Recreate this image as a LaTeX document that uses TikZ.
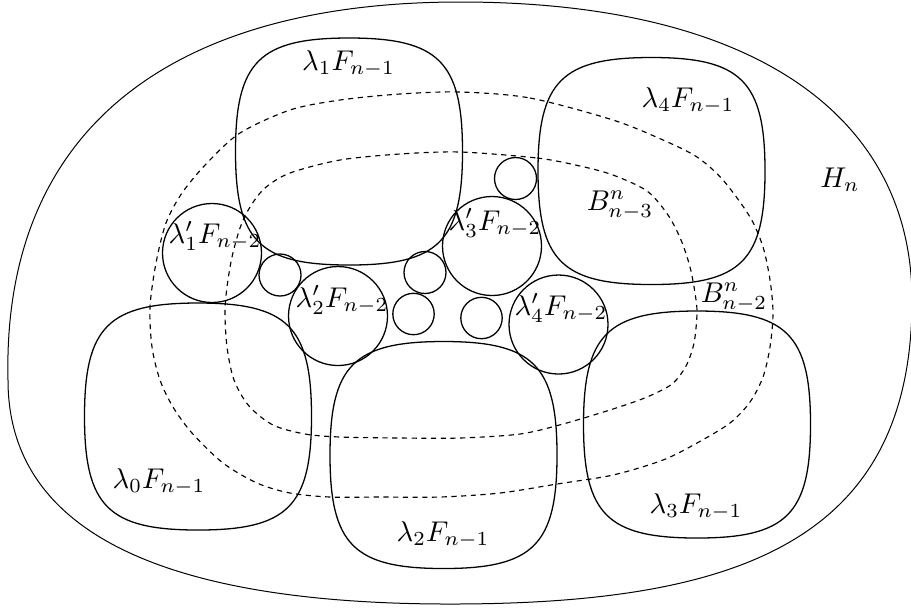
\documentclass[tikz,border=0pt]{standalone}
\begin{document}
\tikzset{
  hullline/.style={line width=0.35pt},
  sqbox/.style={line width=0.45pt},
  disc/.style={line width=0.45pt},
  bset/.style={dash pattern=on 1.8pt off 1.6pt, line width=0.4pt},
  lab/.style={inner sep=0pt}
}
\newcommand\mysquircle[2]{\draw[sqbox,shift={(#1,#2)}] (113.5,0) .. controls (113.5,89.7) and (89.7,113.5) .. (0,113.5) .. controls (-89.7,113.5) and (-113.5,89.7) .. (-113.5,0) .. controls (-113.5,-89.7) and (-89.7,-113.5) .. (0,-113.5) .. controls (89.7,-113.5) and (113.5,-89.7) .. (113.5,0) -- cycle;}
\begin{tikzpicture}[x=0.35pt,y=-0.35pt]
\useasboundingbox (0,0) rectangle (911,610);
% outer region H_n
\draw[hullline] (8,380) .. controls (2,130) and (170,2) .. (460,2)
  .. controls (760,2) and (912,120) .. (912,300)
  .. controls (912,540) and (740,604) .. (450,604)
  .. controls (180,604) and (8,540) .. (8,380) -- cycle;
% dashed sets
\draw[bset] plot[smooth cycle, tension=0.5] coordinates {(460,92) (530,98) (613,120) (663,140) (697,157) (723,180) (750,217) (763,247) (770,280) (773,313) (770,347) (763,377) (750,402) (730,423) (697,443) (663,460) (613,475) (557,484) (500,493) (440,497) (380,497) (330,497) (290,493) (257,483) (223,463) (192,433) (173,407) (160,380) (152,347) (150,307) (156,263) (166,223) (182,193) (207,163) (240,133) (290,110) (340,100) (400,94)};
\draw[bset] plot[smooth cycle, tension=0.5] coordinates {(460,152) (537,158) (580,166) (613,175) (647,191) (668,215) (681,240) (690,267) (695,293) (697,313) (694,343) (686,366) (672,384) (647,397) (613,409) (563,424) (520,434) (460,438) (400,438) (340,437) (305,434) (273,425) (249,406) (234,380) (227,347) (225,313) (227,287) (232,257) (240,228) (250,207) (265,188) (290,173) (340,160) (400,154)};
% big pieces
\mysquircle{349}{151.5}
\mysquircle{651.5}{171}
\mysquircle{198}{416.5}
\mysquircle{443.5}{455}
\mysquircle{697}{424.5}
% medium discs
\draw[disc] (212,253) circle[radius=49.5];
\draw[disc] (338,316) circle[radius=49.5];
\draw[disc] (492,246) circle[radius=49.5];
\draw[disc] (558.5,324.5) circle[radius=49.5];
% small discs
\draw[disc] (280,275) circle[radius=21];
\draw[disc] (425,272.5) circle[radius=21];
\draw[disc] (413.5,314) circle[radius=20.7];
\draw[disc] (481.5,318) circle[radius=20.7];
\draw[disc] (515.5,178.5) circle[radius=21];
% labels
\node[lab] (l1) at (348.5,64) {$\lambda_1F_{n-1}$};
\node[lab] (l4) at (688,101) {$\lambda_4F_{n-1}$};
\node[lab] (hn) at (840,180) {$H_n$};
\node[lab] (b3) at (620,205) {$B^n_{n-3}$};
\node[lab] (b2) at (734,297) {$B^n_{n-2}$};
\node[lab] (p3) at (495,223) {$\lambda'_3F_{n-2}$};
\node[lab] (p1) at (215,236) {$\lambda'_1F_{n-2}$};
\node[lab] (p2) at (342,300) {$\lambda'_2F_{n-2}$};
\node[lab] (p4) at (561,308) {$\lambda'_4F_{n-2}$};
\node[lab] (l0) at (159,482) {$\lambda_0F_{n-1}$};
\node[lab] (l2) at (443,535) {$\lambda_2F_{n-1}$};
\node[lab] (l3) at (696,507) {$\lambda_3F_{n-1}$};
\end{tikzpicture}
\end{document}
